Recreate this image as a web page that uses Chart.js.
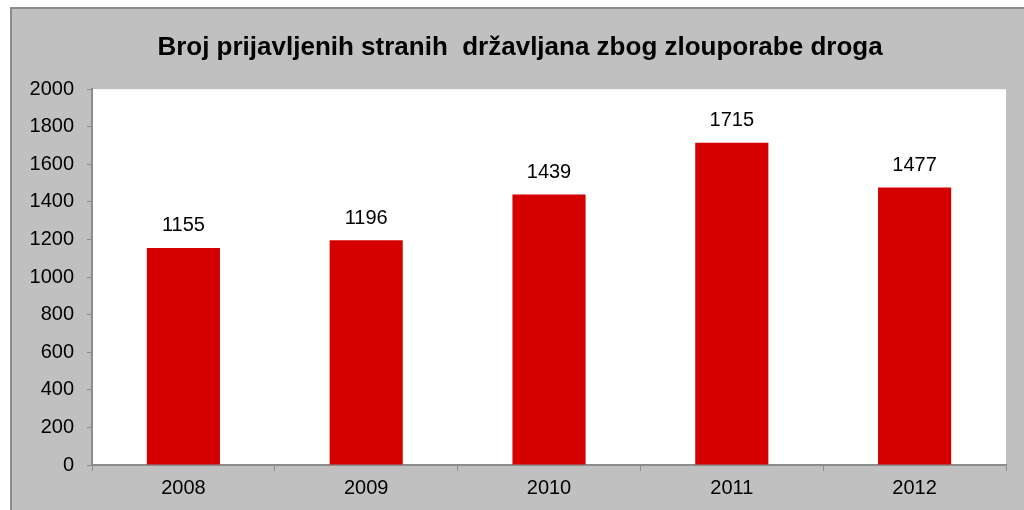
<!DOCTYPE html>
<html>
<head>
<meta charset="utf-8">
<script src="https://cdn.jsdelivr.net/npm/chart.js@4"></script>
<style>
  body { margin: 0; background: #fff; overflow: hidden; }
  #okvir {
    position: absolute; left: 10px; top: 7px;
    width: 1030px; height: 520px;
    background: #c0c0c0;
    border-top: 2px solid #8c8c8c;
    border-left: 2px solid #8c8c8c;
  }
  canvas { display: block; }
</style>
</head>
<body>
<div id="okvir"><canvas id="grafPrijave" width="1012" height="501"></canvas></div>
<script>
//Podaci
const godine = ['2008', '2009', '2010', '2011', '2012'];
const prijave = [1155, 1196, 1439, 1715, 1477];
const naslov = 'Broj prijavljenih stranih  državljana zbog zlouporabe droga';

const pismo = '"Liberation Sans", Arial, sans-serif';

//Pozadina podrucja grafa, naslov malo udesno
const bijeloPodrucje = {
    id: 'bijeloPodrucje',
    afterLayout(chart) {
        if (chart.titleBlock) chart.titleBlock.left += 22;
    },
    beforeDraw(chart) {
        const { ctx, chartArea: a } = chart;
        ctx.save();
        ctx.fillStyle = '#ffffff';
        ctx.fillRect(a.left, a.top, a.right - a.left, a.bottom - a.top);
        ctx.restore();
    }
};

//Oznake vrijednosti iznad stupaca
const oznakeVrijednosti = {
    id: 'oznakeVrijednosti',
    afterDatasetsDraw(chart) {
        const ctx = chart.ctx;
        const meta = chart.getDatasetMeta(0);
        ctx.save();
        ctx.font = '20px ' + pismo;
        ctx.fillStyle = '#000';
        ctx.textAlign = 'center';
        ctx.textBaseline = 'middle';
        meta.data.forEach((bar, i) => {
            ctx.fillText(prijave[i], bar.x, bar.y - 22);
        });
        ctx.restore();
    }
};

const config = {
    type: 'bar',
    data: {
        labels: godine,
        datasets: [{
            data: prijave,
            backgroundColor: '#d40000',
            barPercentage: 0.4,
            categoryPercentage: 1
        }]
    },
    options: {
        responsive: false,
        animation: false,
        layout: { padding: { left: 0, right: 18, top: 0, bottom: 0 } },
        plugins: {
            legend: { display: false },
            tooltip: { enabled: false },
            title: {
                display: true,
                text: naslov,
                color: '#000',
                font: { family: pismo, size: 26, weight: 'bold' },
                padding: { top: 23, bottom: 26 }
            }
        },
        scales: {
            x: {
                grid: { offset: true, drawOnChartArea: false, drawTicks: true, tickLength: 6, color: '#8c8c8c' },
                border: { color: '#8c8c8c', width: 2 },
                ticks: { color: '#000', padding: 5, font: { family: pismo, size: 20 } },
                afterFit(scale) { scale.height = 45; }
            },
            y: {
                min: 0,
                max: 2000,
                grid: { drawOnChartArea: false, drawTicks: true, tickLength: 5, color: '#8c8c8c' },
                border: { color: '#8c8c8c', width: 2 },
                ticks: {
                    stepSize: 200,
                    color: '#000',
                    padding: 13,
                    font: { family: pismo, size: 20 },
                    callback: v => String(v)
                },
                afterFit(scale) { scale.width = 80; }
            }
        }
    },
    plugins: [bijeloPodrucje, oznakeVrijednosti]
};

new Chart(document.querySelector('#grafPrijave'), config);
</script>
</body>
</html>
